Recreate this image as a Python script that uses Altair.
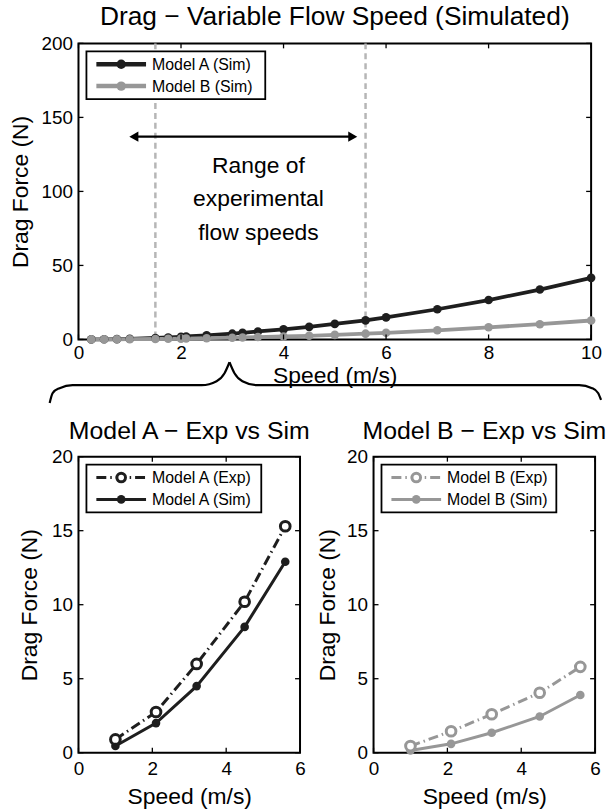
import altair as alt
import pandas as pd

# ---------------- data ----------------
speed_sim = [0.25, 0.5, 0.75, 1.0, 1.5, 1.75, 2.0, 2.1, 2.5, 3.0, 3.2, 3.5,
             4.0, 4.5, 5.0, 5.6, 6.0, 7.0, 8.0, 9.0, 10.0]
drag_a_sim = [0.03, 0.1, 0.24, 0.45, 1.0, 1.35, 1.8, 2.0, 2.8, 3.9, 4.5, 5.4,
              6.8, 8.5, 10.5, 12.9, 14.9, 20.4, 26.6, 33.7, 41.6]
drag_b_sim = [0.01, 0.04, 0.08, 0.15, 0.3, 0.42, 0.55, 0.6, 0.82, 1.18, 1.35, 1.6,
              2.0, 2.45, 3.1, 3.9, 4.5, 6.2, 8.2, 10.3, 12.8]

speed_exp = [1.0, 2.1, 3.2, 4.5, 5.6]
drag_a_exp = [0.9, 2.75, 6.0, 10.2, 15.3]
drag_a_sim_pts = [0.45, 2.0, 4.5, 8.5, 12.9]
drag_b_exp = [0.45, 1.45, 2.6, 4.05, 5.8]
drag_b_sim_pts = [0.15, 0.6, 1.35, 2.45, 3.9]

top_x_ticks = [0, 2, 4, 6, 8, 10]
top_y_ticks = [0, 50, 100, 150, 200]
bot_x_ticks = [0, 2, 4, 6]
bot_y_ticks = [0, 5, 10, 15, 20]

range_lines = [1.5, 5.6]
arrow_x = [1.08, 5.35]
arrow_y = [137, 137]
note_lines = ["Range of", "experimental", "flow speeds"]
note_pos = [3.51, 117]

brace_x = [-0.562, -0.504, -0.368, -0.116, 2.403, 2.694, 2.849, 2.946,
           2.946, 3.043, 3.198, 3.488, 9.767, 10.019, 10.136, 10.194]
brace_y = [-42.9, -36.2, -32.9, -30.9, -30.9, -28.2, -22.8, -15.4,
           -15.4, -22.8, -28.2, -30.9, -30.9, -32.9, -36.2, -40.9]
brace_seg = [0] * 8 + [1] * 8

# ---------------- style ----------------
FONT = "Liberation Sans"
BLACK = "#1e1e1e"
GRAY = "#979797"
LIGHT = "#b6b6b6"
EXP_DASH = [10, 4, 1.5, 4]

TW, TH = 516, 298
BW, BH = 223, 298


def axis(title, values, title_pad, label_pad=6):
    return alt.Axis(title=title, values=values, domain=False, ticks=False, grid=False,
                    labelFontSize=19, titleFontSize=23, labelFont=FONT, titleFont=FONT,
                    labelColor="black", titleColor="black", titleFontWeight="normal",
                    labelPadding=label_pad, titlePadding=title_pad, labelFlush=False,
                    labelOverlap=False)


def inward_ticks(xs, ys, X, Y, W, H, L=5):
    xd = alt.Data(values=[{"v": v} for v in xs])
    yd = alt.Data(values=[{"v": v} for v in ys])
    kw = dict(size=L, thickness=1.3, color="black", opacity=1)
    out = []
    for yv in (H - L / 2, L / 2):
        out.append(alt.Chart(xd).mark_tick(orient="vertical", **kw).encode(
            x=X("v:Q"), y=alt.value(yv)))
    for xv in (L / 2, W - L / 2):
        out.append(alt.Chart(yd).mark_tick(orient="horizontal", **kw).encode(
            y=Y("v:Q"), x=alt.value(xv)))
    return out


def legend(entries, box_w, box_h=48, row_y=(21, 43), x0=8, y0=8, lw_pt=75):
    one = alt.Data(values=[{}])
    layers = [alt.Chart(one).mark_rect(fill="white", stroke="black", strokeWidth=1.8).encode(
        x=alt.value(x0), x2=alt.value(x0 + box_w), y=alt.value(y0), y2=alt.value(y0 + box_h))]
    for (label, color, dash, hollow, lw), ry in zip(entries, row_y):
        rule_kw = dict(color=color, strokeWidth=lw)
        if dash:
            rule_kw["strokeDash"] = dash
        layers.append(alt.Chart(one).mark_rule(**rule_kw).encode(
            x=alt.value(x0 + 10), x2=alt.value(x0 + 60), y=alt.value(ry)))
        if hollow:
            layers.append(alt.Chart(one).mark_point(filled=True, fill="white", stroke=color,
                                                   strokeWidth=3, size=lw_pt, opacity=1).encode(
                x=alt.value(x0 + 35), y=alt.value(ry)))
        else:
            layers.append(alt.Chart(one).mark_point(filled=True, color=color, size=lw_pt,
                                                   opacity=1).encode(
                x=alt.value(x0 + 35), y=alt.value(ry)))
        layers.append(alt.Chart(one).mark_text(align="left", baseline="middle", font=FONT,
                                               fontSize=16, color="black").encode(
            x=alt.value(x0 + 66), y=alt.value(ry + 1), text=alt.value(label)))
    return layers


# ---------------- top chart ----------------
n = len(speed_sim)
top_df = pd.DataFrame({
    "speed": speed_sim * 2,
    "drag": drag_a_sim + drag_b_sim,
    "series": ["Model A (Sim)"] * n + ["Model B (Sim)"] * n,
})
xs_top = alt.Scale(domain=[0, 10], nice=False, zero=False)
ys_top = alt.Scale(domain=[0, 200], nice=False, zero=False)
col_top = alt.Scale(domain=["Model A (Sim)", "Model B (Sim)"], range=[BLACK, GRAY])
ax_x_top = axis("Speed (m/s)", top_x_ticks, 2, label_pad=4.5)
ax_y_top = axis("Drag Force (N)", top_y_ticks, 9)


def XT(f):
    return alt.X(f, scale=xs_top, axis=ax_x_top)


def YT(f):
    return alt.Y(f, scale=ys_top, axis=ax_y_top)


vlines = alt.Chart(pd.DataFrame({"x": range_lines})).mark_rule(
    color=LIGHT, strokeWidth=2.5, strokeDash=[6, 4]).encode(
    x=XT("x:Q"), y=alt.value(0), y2=alt.value(TH))

base_top = alt.Chart(top_df).encode(
    x=XT("speed:Q"), y=YT("drag:Q"),
    color=alt.Color("series:N", scale=col_top, legend=None),
)
top_lines = base_top.mark_line(strokeWidth=3.8)
top_pts = base_top.mark_point(filled=True, size=75, opacity=1)

arrow_df = pd.DataFrame({"x": [arrow_x[0]], "x2": [arrow_x[1]], "y": [arrow_y[0]]})
arrow_line = alt.Chart(arrow_df).mark_rule(color="black", strokeWidth=2.2).encode(
    x=XT("x:Q"), x2="x2:Q", y=YT("y:Q"))
heads_df = pd.DataFrame({"x": arrow_x, "y": arrow_y,
                         "shape": ["triangle-left", "triangle-right"]})
arrow_heads = alt.Chart(heads_df).mark_point(filled=True, color="black", size=110,
                                             opacity=1).encode(
    x=XT("x:Q"), y=YT("y:Q"),
    shape=alt.Shape("shape:N", scale=None, legend=None))

note = alt.Chart(pd.DataFrame({"x": [note_pos[0]], "y": [note_pos[1]]})).mark_text(
    font=FONT, fontSize=23, lineHeight=33.5, align="center", baseline="middle",
    color="black").encode(x=XT("x:Q"), y=YT("y:Q"), text=alt.value(note_lines))

brace = alt.Chart(pd.DataFrame({"x": brace_x, "y": brace_y, "s": brace_seg})).mark_line(
    color="black", strokeWidth=2.2, clip=False, interpolate="monotone").encode(
    x=XT("x:Q"), y=YT("y:Q"), detail="s:N")

top_legend = legend([("Model A (Sim)", BLACK, None, False, 4.5),
                     ("Model B (Sim)", GRAY, None, False, 4.5)], box_w=180, lw_pt=90)

top = alt.layer(vlines, top_lines, top_pts, arrow_line, arrow_heads, note, brace,
                *inward_ticks(top_x_ticks, top_y_ticks, XT, YT, TW, TH),
                *top_legend).properties(
    width=TW, height=TH,
    title=alt.TitleParams("Drag \u2212 Variable Flow Speed (Simulated)", font=FONT,
                          fontSize=26.5, fontWeight="normal", color="black", offset=4))


# ---------------- bottom charts ----------------
def bottom_panel(title, exp_vals, sim_vals, color, exp_label, sim_label, ytitle_pad):
    df_exp = pd.DataFrame({"speed": speed_exp, "drag": exp_vals})
    df_sim = pd.DataFrame({"speed": speed_exp, "drag": sim_vals})
    xs = alt.Scale(domain=[0, 6], nice=False, zero=False)
    ys = alt.Scale(domain=[0, 20], nice=False, zero=False)
    ax_x = axis("Speed (m/s)", bot_x_ticks, 8, label_pad=6.5)
    ax_y = axis("Drag Force (N)", bot_y_ticks, ytitle_pad)

    def X(f):
        return alt.X(f, scale=xs, axis=ax_x)

    def Y(f):
        return alt.Y(f, scale=ys, axis=ax_y)

    enc = dict(x=X("speed:Q"), y=Y("drag:Q"))
    exp_line = alt.Chart(df_exp).mark_line(color=color, strokeWidth=3,
                                           strokeDash=EXP_DASH).encode(**enc)
    sim_line = alt.Chart(df_sim).mark_line(color=color, strokeWidth=3).encode(**enc)
    sim_pts = alt.Chart(df_sim).mark_point(filled=True, color=color, size=75,
                                           opacity=1).encode(**enc)
    exp_pts = alt.Chart(df_exp).mark_point(filled=True, fill="white", stroke=color,
                                           strokeWidth=3, size=95, opacity=1).encode(**enc)
    leg = legend([(exp_label, color, EXP_DASH, True, 3),
                  (sim_label, color, None, False, 3)], box_w=176)
    return alt.layer(exp_line, sim_line, sim_pts, exp_pts,
                     *inward_ticks(bot_x_ticks, bot_y_ticks, X, Y, BW, BH),
                     *leg).properties(
        width=BW, height=BH,
        title=alt.TitleParams(title, font=FONT, fontSize=25, fontWeight="normal",
                              color="black", offset=4))


left = bottom_panel("Model A \u2212 Exp vs Sim", drag_a_exp, drag_a_sim_pts, BLACK,
                    "Model A (Exp)", "Model A (Sim)", 10)
right = bottom_panel("Model B \u2212 Exp vs Sim", drag_b_exp, drag_b_sim_pts, GRAY,
                     "Model B (Exp)", "Model B (Sim)", 7)

bottom = alt.hconcat(left, right, spacing=2)

chart = alt.vconcat(top, bottom, spacing=9).properties(
    padding={"left": 8, "top": 0, "right": 0, "bottom": 0}, background="white"
).configure_view(stroke="black", strokeWidth=2)

chart.save("out.html", embed_options={"renderer": "svg", "actions": False})
